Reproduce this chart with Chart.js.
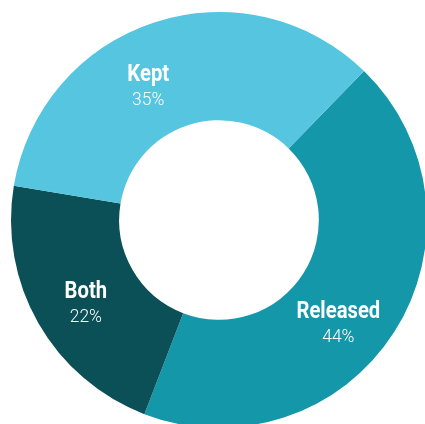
<!DOCTYPE html>
<html>
<head>
<meta charset="utf-8">
<script src="https://cdn.jsdelivr.net/npm/chart.js@4/dist/chart.umd.min.js"></script>
<style>
  html, body { margin: 0; padding: 0; background: #fff; overflow: hidden; }
  #wrap { position: absolute; left: 0; top: 0; width: 438px; height: 440px; }
</style>
</head>
<body>
<div id="wrap"><canvas id="donutChart"></canvas></div>
<script>
var categories = ["Released", "Both", "Kept"];
var shares = [44, 22, 35];
var percentLabels = ["44%", "22%", "35%"];
var sliceColors = ["#1597aa", "#0b4f57", "#55c5e0"];

// narrow text: draw with a horizontal squeeze around the anchor point
function squeezedText(ctx, text, x, y, sx) {
    ctx.save();
    ctx.translate(x, y);
    ctx.scale(sx, 1);
    ctx.fillText(text, 0, 0);
    ctx.restore();
}

// draws the category name and its percentage inside each slice
var sliceLabels = {
    id: 'sliceLabels',
    afterDatasetsDraw: function (chart, args, opts) {
        var ctx = chart.ctx;
        var arcs = chart.getDatasetMeta(0).data;
        ctx.save();
        ctx.fillStyle = '#fff';
        ctx.textAlign = 'center';
        ctx.textBaseline = 'alphabetic';
        arcs.forEach(function (arc, i) {
            var p = arc.getProps(['x', 'y', 'startAngle', 'endAngle', 'innerRadius', 'outerRadius'], true);
            var mid = (p.startAngle + p.endAngle) / 2 + (opts.shift[i] || 0) * Math.PI / 180;
            var r = (p.innerRadius + p.outerRadius) / 2 + 1;
            var x = p.x + Math.cos(mid) * r;
            var y = p.y + Math.sin(mid) * r;
            ctx.font = 'bold 23px Roboto, sans-serif';
            squeezedText(ctx, categories[i], x, y - 1, 0.88);
            ctx.font = '300 18px Roboto, sans-serif';
            squeezedText(ctx, percentLabels[i], x, y + 23, 0.97);
        });
        ctx.restore();
    }
};

var ctx = document.getElementById("donutChart").getContext("2d");
new Chart(ctx, {
    type: 'doughnut',
    data: {
        labels: categories,
        datasets: [{
            data: shares,
            backgroundColor: sliceColors,
            borderWidth: 0
        }]
    },
    options: {
        responsive: true,
        maintainAspectRatio: false,
        animation: false,
        rotation: 44.2,
        cutout: '48%',
        layout: { padding: { left: 11, right: 11, top: 12, bottom: 12 } },
        plugins: {
            legend: { display: false },
            tooltip: { enabled: false },
            sliceLabels: { shift: [7, -1, -9] }
        }
    },
    plugins: [sliceLabels]
});
</script>
</body>
</html>
